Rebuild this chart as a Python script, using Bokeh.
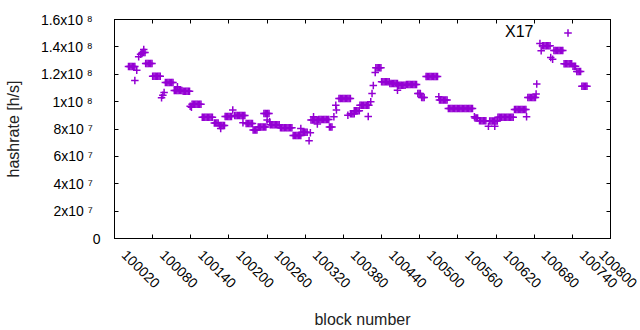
import math
from bokeh.plotting import figure
from bokeh.models import FixedTicker, LinearAxis, Legend, LegendItem, Range1d
from bokeh.embed import file_html
from bokeh.resources import INLINE

# ---- data ----
block = [
    100042, 100044, 100046, 100048, 100050, 100052, 100055, 100052,
    100058, 100061, 100063, 100064, 100066, 100068, 100066,
    100069, 100071, 100073, 100075, 100077, 100079,
    100080, 100082, 100084, 100086, 100088, 100090, 100092,
    100094, 100096, 100098,
    100100, 100102, 100104, 100106, 100108, 100110, 100112,
    100114, 100116, 100118, 100120, 100122, 100124, 100126, 100119,
    100128, 100130, 100132, 100134, 100136, 100138,
    100139, 100141,
    100142, 100144, 100146, 100148, 100150, 100152, 100154, 100156,
    100158, 100160, 100162, 100164, 100166, 100168, 100170, 100172, 100174,
    100177, 100179, 100181, 100183,
    100185, 100187, 100189, 100191, 100193, 100187,
    100194, 100196, 100198, 100200, 100202, 100204,
    100206,
    100209, 100211, 100213, 100215, 100217, 100219, 100221, 100223, 100225, 100222,
    100227, 100229, 100231, 100233, 100235, 100237,
    100238, 100240, 100242, 100244,
    100246, 100248, 100250, 100252, 100254, 100256, 100258,
    100255, 100257, 100259, 100261, 100263,
    100260, 100264,
    100265, 100267, 100269, 100271, 100273, 100275, 100277, 100279,
    100281, 100283, 100285, 100287, 100289, 100291, 100293, 100295, 100297, 100299,
    100301, 100303, 100305, 100307, 100309, 100311, 100313, 100313,
    100315, 100317, 100319, 100321, 100323,
    100326, 100328, 100333,
    100329, 100331, 100333, 100335, 100337, 100339, 100339,
    100341, 100343, 100345, 100347, 100349, 100351, 100353, 100355, 100357,
    100358, 100360, 100362,
    100365, 100368, 100369,
    100373, 100375, 100377, 100379, 100381, 100383, 100385, 100387, 100389, 100391, 100387,
    100391, 100393, 100395, 100397,
    100397, 100399, 100401, 100403, 100405,
    100406, 100408, 100410, 100412, 100414, 100416, 100418, 100420, 100419,
    100423, 100425, 100427, 100430,
    100431, 100433, 100435, 100437, 100439,
    100440, 100442, 100444, 100446, 100448, 100450, 100452,
    100453, 100455, 100457, 100459, 100461, 100463, 100465, 100465,
    100467, 100469, 100471, 100473, 100475, 100477,
    100479, 100481, 100483, 100485, 100487, 100489, 100491, 100493, 100495,
    100497, 100499, 100501,
    100503, 100505, 100507,
    100510, 100512, 100514, 100516, 100518, 100520, 100522, 100524, 100526, 100528,
    100530,
    100531, 100533, 100535, 100537, 100539, 100541, 100543,
    100545, 100547, 100549, 100551, 100553, 100555, 100557, 100559, 100561, 100563,
    100565, 100567, 100569, 100571, 100573, 100575, 100577, 100579, 100581, 100583,
    100586, 100587, 100589, 100591,
    100594, 100596, 100598, 100600, 100602, 100604,
    100608,
    100610, 100612, 100614, 100616, 100618, 100620, 100622, 100618,
    100623, 100625, 100627, 100629, 100631, 100633, 100635, 100637, 100639, 100641,
    100643, 100645, 100647,
    100649, 100651, 100653, 100655, 100657, 100659, 100661, 100663, 100665, 100667,
    100668,
    100670, 100672, 100674, 100676, 100678, 100680, 100682,
    100683, 100684, 100689, 100691,
    100693, 100695, 100697, 100699, 100701, 100703, 100705,
    100706, 100709,
    100711, 100713, 100715, 100717, 100719, 100721, 100723, 100725,
    100727, 100729, 100731, 100733, 100735, 100737, 100739,
    100741, 100743, 100745,
    100747, 100749, 100751, 100753,
    100755, 100757, 100759, 100761, 100763,
]

hashrate_e7 = [
    12.57, 12.57, 12.57, 12.57, 12.57, 12.57, 12.30, 11.55,
    13.28, 13.47, 13.54, 13.58, 13.58, 13.58, 13.81,
    12.79, 12.79, 12.79, 12.79, 12.79, 12.79,
    11.85, 11.85, 11.85, 11.85, 11.85, 11.85, 11.85,
    10.29, 10.47, 10.66,
    11.40, 11.40, 11.40, 11.40, 11.40, 11.40, 11.40,
    10.82, 10.82, 10.82, 10.82, 10.82, 10.82, 10.82, 11.08,
    10.75, 10.75, 10.75, 10.75, 10.75, 10.75,
    9.67, 9.58,
    9.80, 9.80, 9.80, 9.80, 9.80, 9.80, 9.80, 9.80,
    8.85, 8.85, 8.85, 8.85, 8.85, 8.85, 8.85, 8.85, 8.85,
    8.43, 8.43, 8.43, 8.43,
    8.25, 8.25, 8.25, 8.25, 8.25, 8.04,
    8.92, 8.92, 8.92, 8.92, 8.92, 8.92,
    9.38,
    8.98, 8.98, 8.98, 8.98, 8.98, 8.98, 8.98, 8.98, 8.98, 8.45,
    8.41, 8.41, 8.41, 8.41, 8.41, 8.41,
    7.92, 7.92, 7.92, 7.92,
    8.14, 8.14, 8.14, 8.14, 8.14, 8.14, 8.14,
    9.14, 9.14, 9.14, 9.14, 9.14,
    8.65, 8.53,
    8.31, 8.31, 8.31, 8.31, 8.31, 8.31, 8.31, 8.31,
    8.09, 8.09, 8.09, 8.09, 8.09, 8.09, 8.09, 8.09, 8.09, 8.09,
    7.53, 7.53, 7.53, 7.53, 7.53, 7.53, 7.53, 8.04,
    7.77, 7.77, 7.77, 7.77, 7.77,
    7.14, 7.72, 8.89,
    8.65, 8.65, 8.65, 8.65, 8.65, 8.65, 8.36,
    8.70, 8.70, 8.70, 8.70, 8.70, 8.70, 8.70, 8.70, 8.70,
    8.14, 8.14, 8.14,
    8.89, 9.74, 9.38,
    10.23, 10.23, 10.23, 10.23, 10.23, 10.23, 10.23, 10.23, 10.23, 10.23, 9.01,
    9.11, 9.11, 9.11, 9.11,
    9.34, 9.34, 9.34, 9.34, 9.34,
    9.74, 9.74, 9.74, 9.74, 9.74, 9.74, 9.74, 9.74, 8.91,
    9.99, 10.60, 11.18, 12.13,
    12.48, 12.48, 12.48, 12.48, 12.48,
    11.45, 11.45, 11.45, 11.45, 11.45, 11.45, 11.45,
    11.33, 11.33, 11.33, 11.33, 11.33, 11.33, 11.33, 10.84,
    11.20, 11.20, 11.20, 11.20, 11.20, 11.20,
    11.26, 11.26, 11.26, 11.26, 11.26, 11.26, 11.26, 11.26, 11.26,
    10.60, 10.60, 10.60,
    10.31, 10.31, 10.31,
    11.84, 11.84, 11.84, 11.84, 11.84, 11.84, 11.84, 11.84, 11.84, 11.84,
    10.35,
    10.11, 10.11, 10.11, 10.11, 10.11, 10.11, 10.11,
    9.50, 9.50, 9.50, 9.50, 9.50, 9.50, 9.50, 9.50, 9.50, 9.50,
    9.50, 9.50, 9.50, 9.50, 9.50, 9.50, 9.50, 9.50, 9.50, 9.50,
    8.89, 8.80, 8.80, 8.80,
    8.61, 8.61, 8.61, 8.61, 8.61, 8.61,
    8.21,
    8.58, 8.58, 8.58, 8.58, 8.58, 8.58, 8.58, 8.21,
    8.85, 8.85, 8.85, 8.85, 8.85, 8.85, 8.85, 8.85, 8.85, 8.85,
    8.85, 8.85, 8.85,
    9.43, 9.43, 9.43, 9.43, 9.43, 9.43, 9.43, 9.43, 9.43, 9.43,
    8.89,
    10.31, 10.31, 10.31, 10.31, 10.31, 10.31, 10.31,
    10.55, 11.28, 14.25, 13.71,
    14.09, 14.09, 14.09, 14.09, 14.09, 14.09, 14.09,
    13.23, 13.10,
    13.74, 13.74, 13.74, 13.74, 13.74, 13.74, 13.74, 13.74,
    12.77, 12.77, 12.77, 12.77, 12.77, 12.77, 12.77,
    12.59, 12.59, 12.59,
    12.20, 12.20, 12.20, 12.20,
    11.13, 11.13, 11.13, 11.13, 11.13,
]
hashrate = [v * 1e7 for v in hashrate_e7]

series_label = "X17"
x_label = "block number"
y_label = "hashrate [h/s]"
x_ticks = [100020, 100080, 100140, 100200, 100260, 100320, 100380,
           100440, 100500, 100560, 100620, 100680, 100740, 100800]
y_ticks = [0, 2e7, 4e7, 6e7, 8e7, 1e8, 1.2e8, 1.4e8, 1.6e8]
y_tick_labels = ["0", "2x10 \u2077", "4x10 \u2077", "6x10 \u2077", "8x10 \u2077",
                 "1x10 \u2078", "1.2x10 \u2078", "1.4x10 \u2078", "1.6x10 \u2078"]

FONT = "Liberation Sans"
PURPLE = "#9400d3"
PAD = "\u00a0\u00a0"      # keeps exponents left of the "0" label edge, as in gnuplot
LEAD = "\u2002\u2002"     # gnuplot starts its slanted labels just right of the tick

p = figure(width=640, height=330, output_backend="svg", toolbar_location=None,
           x_range=Range1d(x_ticks[0], x_ticks[-1]), y_range=Range1d(y_ticks[0], y_ticks[-1]),
           min_border_left=114, min_border_right=30, min_border_top=19, min_border_bottom=92,
           x_axis_type=None, y_axis_type=None)
p.grid.visible = False
p.outline_line_color = "black"
p.outline_line_width = 1
p.background_fill_color = "white"
p.border_fill_color = "white"

r = p.scatter(block, hashrate, marker="cross", size=7.5, line_color=PURPLE, line_width=1.5)

def make_axis(ticks, labels=None):
    ax = LinearAxis(ticker=FixedTicker(ticks=ticks))
    ax.major_tick_in = 4
    ax.major_tick_out = 0
    ax.minor_tick_line_color = None
    ax.axis_line_color = "black"
    ax.major_tick_line_color = "black"
    if labels is None:
        ax.major_label_overrides = {t: "" for t in ticks}
        ax.major_label_standoff = 0
    else:
        ax.major_label_overrides = dict(zip(ticks, labels))
        ax.major_label_text_font = FONT
        ax.major_label_text_font_size = "14px"
        ax.major_label_text_color = "black"
    return ax

xb = make_axis(x_ticks, [LEAD + str(t) for t in x_ticks])
xb.major_label_orientation = -math.pi / 4
xb.major_label_standoff = 4
xb.axis_label = x_label
xb.axis_label_text_font = FONT
xb.axis_label_text_font_size = "16px"
xb.axis_label_text_font_style = "normal"
xb.axis_label_text_color = "#222222"
xb.axis_label_standoff = 11
p.add_layout(xb, "below")

yl = make_axis(y_ticks, [lab if lab == "0" else lab + PAD for lab in y_tick_labels])
yl.major_label_standoff = 14
yl.axis_label = y_label
yl.axis_label_text_font = FONT
yl.axis_label_text_font_size = "16px"
yl.axis_label_text_font_style = "normal"
yl.axis_label_text_color = "#222222"
yl.axis_label_standoff = 16
p.add_layout(yl, "left")

p.add_layout(make_axis(x_ticks), "above")
p.add_layout(make_axis(y_ticks), "right")

# key: gnuplot puts the title on the left and the point sample on its right
key_text = Legend(items=[LegendItem(label=series_label, renderers=[r])],
                  location=(391, 196), glyph_width=0, glyph_height=20, label_height=20,
                  label_standoff=0, padding=0, margin=0, spacing=0,
                  background_fill_alpha=0, border_line_alpha=0,
                  label_text_font=FONT, label_text_font_size="16px", label_text_color="black")
key_sample = Legend(items=[LegendItem(label=" ", renderers=[r])],
                    location=(444, 196), glyph_width=19, glyph_height=19, label_height=19,
                    label_standoff=0, padding=0, margin=0, spacing=0,
                    background_fill_alpha=0, border_line_alpha=0,
                    label_text_font=FONT, label_text_font_size="16px")
p.add_layout(key_text)
p.add_layout(key_sample)

open("out.html", "w").write(file_html(p, INLINE))
